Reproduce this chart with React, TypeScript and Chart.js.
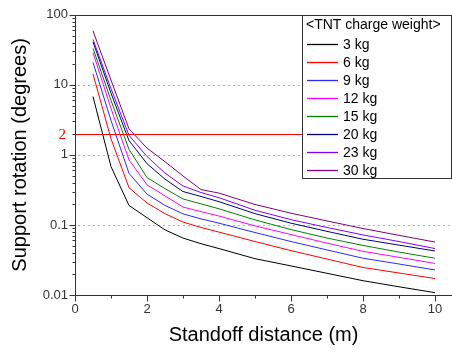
import React, { useEffect, useRef } from 'react';
import { Chart, registerables } from 'chart.js';

Chart.register(...registerables);

// Standoff distance (m)
const distances = [0.5, 1, 1.5, 2, 2.5, 3, 3.5, 4, 5, 6, 7, 8, 9, 10];

// Support rotation (degrees) per TNT charge weight
const rot3kg = [6.8, 0.68, 0.19, 0.127, 0.085, 0.065, 0.054, 0.046, 0.033, 0.026, 0.0204, 0.016, 0.0131, 0.0108];
const rot6kg = [14.3, 1.7, 0.34, 0.206, 0.145, 0.11, 0.092, 0.079, 0.058, 0.043, 0.0326, 0.0247, 0.0206, 0.0172];
const rot9kg = [20.9, 3.1, 0.545, 0.276, 0.19, 0.144, 0.122, 0.106, 0.078, 0.058, 0.044, 0.0335, 0.0277, 0.0228];
const rot12kg = [28.9, 4.6, 0.85, 0.374, 0.26, 0.18, 0.155, 0.134, 0.097, 0.073, 0.055, 0.042, 0.0345, 0.0282];
const rot15kg = [33.2, 6.0, 1.2, 0.475, 0.33, 0.235, 0.2, 0.17, 0.118, 0.086, 0.065, 0.051, 0.041, 0.0335];
const rot20kg = [41, 7.6, 1.6, 0.75, 0.45, 0.3, 0.255, 0.215, 0.145, 0.106, 0.081, 0.0625, 0.0515, 0.0425];
const rot23kg = [44.5, 8.8, 1.9, 0.95, 0.55, 0.36, 0.29, 0.245, 0.162, 0.119, 0.092, 0.072, 0.058, 0.046];
const rot30kg = [58.9, 11.7, 2.35, 1.25, 0.8, 0.5, 0.32, 0.285, 0.196, 0.147, 0.114, 0.089, 0.071, 0.057];

const seriesValues = [rot3kg, rot6kg, rot9kg, rot12kg, rot15kg, rot20kg, rot23kg, rot30kg];
const weightLabels = ['3 kg', '6 kg', '9 kg', '12 kg', '15 kg', '20 kg', '23 kg', '30 kg'];
const seriesColors = ['#000000', '#ff0000', '#2a2aff', '#ff00ff', '#008000', '#000080', '#8000ff', '#800080'];

const yTickLabels = ['0.01', '0.1', '1', '10', '100'];
const xTickLabels = ['0', '2', '4', '6', '8', '10'];
const gridDecades = [0.1, 1, 10];
const limitValue = 2;
const limitLabel = '2';
const legendTitle = '<TNT charge weight>';
const xTitle = 'Standoff distance (m)';
const yTitle = 'Support rotation (degrees)';

const SANS = '"Liberation Sans", Arial, sans-serif';
const SERIF = '"Liberation Serif", "Times New Roman", serif';

const decorPlugin = {
  id: 'decor',
  beforeDatasetsDraw(chart: any) {
    const { ctx, chartArea: a, scales } = chart;
    const y = scales.y;
    ctx.save();
    ctx.strokeStyle = '#b4b4b4';
    ctx.lineWidth = 1;
    ctx.setLineDash([2, 3]);
    gridDecades.forEach((v) => {
      const py = Math.round(y.getPixelForValue(v)) + 0.5;
      ctx.beginPath();
      ctx.moveTo(a.left + 3, py);
      ctx.lineTo(a.right, py);
      ctx.stroke();
    });
    ctx.restore();
  },
  afterDatasetsDraw(chart: any) {
    const { ctx, chartArea: a, scales } = chart;
    const x = scales.x;
    const y = scales.y;
    ctx.save();
    // limit line
    const ly = Math.round(y.getPixelForValue(limitValue)) + 0.5;
    ctx.strokeStyle = '#ff0000';
    ctx.lineWidth = 1.2;
    ctx.beginPath();
    ctx.moveTo(a.left, ly);
    ctx.lineTo(a.right, ly);
    ctx.stroke();
    ctx.fillStyle = '#ff0000';
    ctx.font = '15px ' + SERIF;
    ctx.textAlign = 'right';
    ctx.textBaseline = 'middle';
    ctx.fillText(limitLabel, 66, ly + 1);

    // frame
    ctx.strokeStyle = '#333';
    ctx.lineWidth = 1;
    const L = Math.round(a.left) + 0.5;
    const T = Math.round(a.top) + 0.5;
    const B = Math.round(a.bottom) + 0.5;
    ctx.beginPath();
    ctx.moveTo(a.right, T);
    ctx.lineTo(L, T);
    ctx.lineTo(L, B);
    ctx.lineTo(a.right, B);
    ctx.stroke();

    // y ticks
    for (let k = -2; k <= 2; k++) {
      const base = Math.pow(10, k);
      const py = Math.round(y.getPixelForValue(base)) + 0.5;
      ctx.beginPath();
      ctx.moveTo(L - 6, py);
      ctx.lineTo(L, py);
      ctx.stroke();
      if (k < 2) {
        for (let m = 2; m <= 9; m++) {
          const pm = Math.round(y.getPixelForValue(m * base)) + 0.5;
          ctx.beginPath();
          ctx.moveTo(L - 3, pm);
          ctx.lineTo(L, pm);
          ctx.stroke();
        }
      }
    }
    // x ticks
    for (let v = 0; v <= 10; v++) {
      const px = Math.round(x.getPixelForValue(v)) + 0.5;
      const len = v % 2 === 0 ? 6 : 3;
      ctx.beginPath();
      ctx.moveTo(px, B);
      ctx.lineTo(px, B + len);
      ctx.stroke();
    }
    ctx.restore();
  },
  afterDraw(chart: any) {
    const { ctx } = chart;
    ctx.save();
    const bx = 302.5, by = 15.5, bw = 149, bh = 163;
    ctx.fillStyle = '#ffffff';
    ctx.fillRect(bx, by, bw, bh);
    ctx.strokeStyle = '#333';
    ctx.lineWidth = 1;
    ctx.strokeRect(bx, by, bw, bh);
    ctx.fillStyle = '#000';
    ctx.font = '14px ' + SANS;
    ctx.textAlign = 'left';
    ctx.textBaseline = 'middle';
    ctx.fillText(legendTitle, 306, 25.5);
    chart.data.datasets.forEach((ds: any, i: number) => {
      const iy = Math.round(43.5 + i * 18.1) + 0.5;
      ctx.strokeStyle = ds.borderColor;
      ctx.lineWidth = 1.3;
      ctx.beginPath();
      ctx.moveTo(307, iy);
      ctx.lineTo(338, iy);
      ctx.stroke();
      ctx.fillStyle = '#000';
      ctx.fillText(ds.label, 343, iy + 1);
    });
    ctx.restore();
  },
};

export default function App() {
  const ref = useRef<HTMLCanvasElement | null>(null);

  useEffect(() => {
    if (!ref.current) return;
    const datasets = seriesValues.map((vals, i) => ({
      label: weightLabels[i],
      data: vals.map((v, j) => ({ x: distances[j], y: v })),
      borderColor: seriesColors[i],
      backgroundColor: seriesColors[i],
      borderWidth: 1,
      pointRadius: 0,
      tension: 0,
      fill: false,
    }));
    const chart = new Chart(ref.current, {
      type: 'line',
      data: { datasets },
      options: {
        responsive: false,
        animation: false,
        events: [],
        layout: { padding: { top: 11, right: 0, left: 0, bottom: 0 } },
        plugins: { legend: { display: false }, tooltip: { enabled: false } },
        scales: {
          x: {
            type: 'linear',
            min: 0,
            max: 10.472,
            grid: { display: false, drawTicks: false },
            border: { display: false },
            ticks: {
              stepSize: 1,
              includeBounds: false,
              autoSkip: false,
              maxRotation: 0,
              padding: 7,
              color: '#333',
              font: { family: SANS, size: 13 },
              callback: (v: any) => {
                const n = Number(v);
                if (Math.abs(n - Math.round(n)) < 1e-9 && Math.round(n) % 2 === 0) {
                  return xTickLabels[Math.round(n) / 2] ?? '';
                }
                return '';
              },
            },
            title: {
              display: true,
              text: xTitle,
              color: '#000',
              font: { family: SANS, size: 20 },
              padding: { top: 0, bottom: 7 },
            },
            afterFit: (s: any) => {
              s.height = 59;
            },
          },
          y: {
            type: 'logarithmic',
            min: 0.01,
            max: 100,
            grid: { display: false, drawTicks: false },
            border: { display: false },
            ticks: {
              autoSkip: false,
              padding: 7,
              color: '#333',
              font: { family: SANS, size: 13 },
              callback: (v: any) => {
                const lg = Math.log10(Number(v));
                if (Math.abs(lg - Math.round(lg)) < 1e-6) {
                  return yTickLabels[Math.round(lg) + 2] ?? '';
                }
                return '';
              },
            },
            title: {
              display: true,
              text: yTitle,
              color: '#000',
              font: { family: SANS, size: 20 },
              padding: { top: 8, bottom: 0 },
            },
            afterFit: (s: any) => {
              s.width = 75;
            },
          },
        },
      },
      plugins: [decorPlugin],
    } as any);
    return () => chart.destroy();
  }, []);

  return (
    <div style={{ position: 'fixed', left: 0, top: 0, width: 452, height: 354, background: '#fff' }}>
      <canvas ref={ref} width={452} height={354} style={{ display: 'block', width: 452, height: 354 }} />
    </div>
  );
}
